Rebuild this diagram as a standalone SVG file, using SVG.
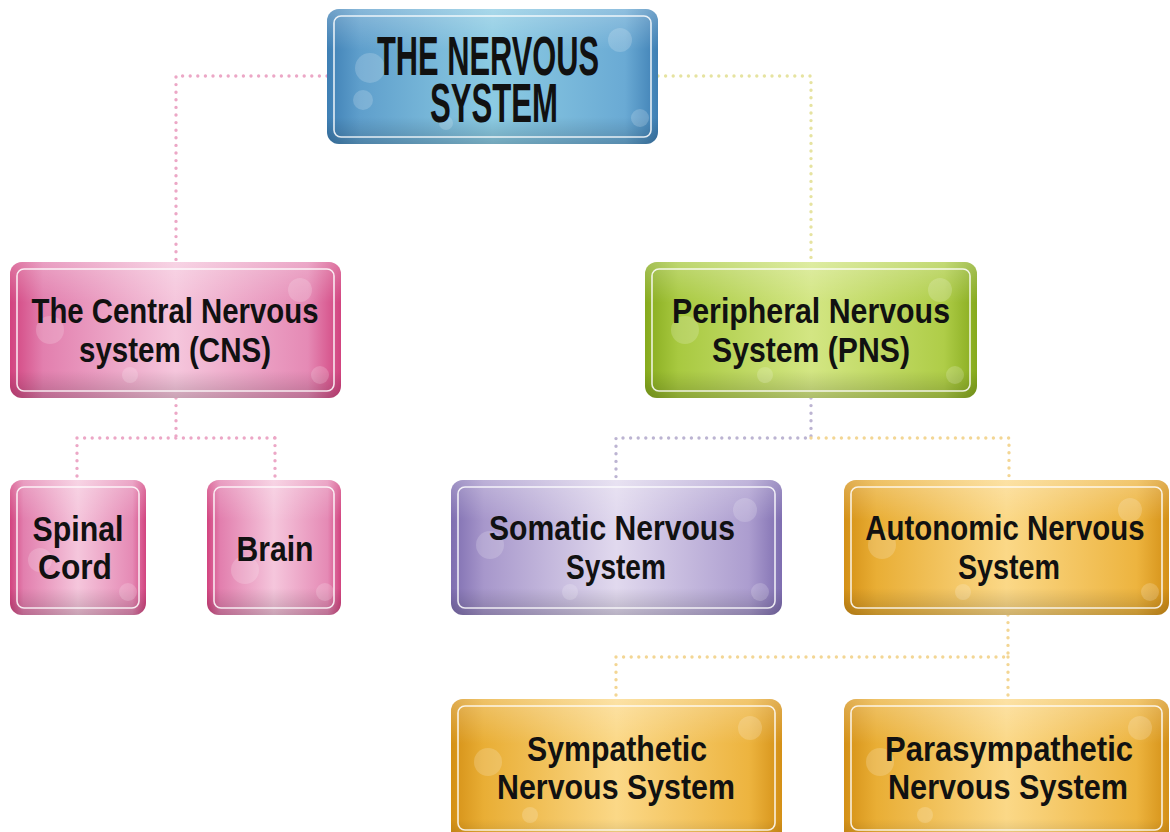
<svg xmlns="http://www.w3.org/2000/svg" width="1170" height="832" viewBox="0 0 1170 832">
<defs>
<linearGradient id="gBlue" x1="0" y1="0" x2="1" y2="0">
<stop offset="0" stop-color="#3e7fb4"/><stop offset="0.1" stop-color="#5f9fcc"/><stop offset="0.5" stop-color="#8ccbe3"/><stop offset="0.9" stop-color="#6aaad4"/><stop offset="1" stop-color="#3e7fb4"/>
</linearGradient>
<linearGradient id="gPink" x1="0" y1="0" x2="1" y2="0">
<stop offset="0" stop-color="#d2437f"/><stop offset="0.1" stop-color="#e27fae"/><stop offset="0.5" stop-color="#f5c6dc"/><stop offset="0.9" stop-color="#e58ab5"/><stop offset="1" stop-color="#d2437f"/>
</linearGradient>
<linearGradient id="gGreen" x1="0" y1="0" x2="1" y2="0">
<stop offset="0" stop-color="#86aa1d"/><stop offset="0.1" stop-color="#a8c940"/><stop offset="0.5" stop-color="#d3e683"/><stop offset="0.9" stop-color="#afcd48"/><stop offset="1" stop-color="#86aa1d"/>
</linearGradient>
<linearGradient id="gPurple" x1="0" y1="0" x2="1" y2="0">
<stop offset="0" stop-color="#7e6db0"/><stop offset="0.1" stop-color="#a797cb"/><stop offset="0.5" stop-color="#e1d9ee"/><stop offset="0.9" stop-color="#ac9dcf"/><stop offset="1" stop-color="#7e6db0"/>
</linearGradient>
<linearGradient id="gOrange" x1="0" y1="0" x2="1" y2="0">
<stop offset="0" stop-color="#d49016"/><stop offset="0.1" stop-color="#e9ae35"/><stop offset="0.5" stop-color="#fbd887"/><stop offset="0.9" stop-color="#edb43f"/><stop offset="1" stop-color="#d49016"/>
</linearGradient>
<linearGradient id="gShade" x1="0" y1="0" x2="0" y2="1">
<stop offset="0" stop-color="#fff" stop-opacity="0.25"/><stop offset="0.3" stop-color="#fff" stop-opacity="0"/><stop offset="0.8" stop-color="#000" stop-opacity="0"/><stop offset="1" stop-color="#000" stop-opacity="0.18"/>
</linearGradient>
<style>
.box{stroke:none}
.shade{fill:url(#gShade)}
.inner{fill:none;stroke:#fff;stroke-opacity:0.85;stroke-width:1.6}
.bokeh{fill:#fff;fill-opacity:0.18}
.t{font-family:"Liberation Sans",Arial,sans-serif;font-weight:bold;fill:#111;text-anchor:middle}
.title{font-size:55px}
.lbl{font-size:35px}
.dot{fill:none;stroke-width:3.4;stroke-linecap:round;stroke-dasharray:0 7.6}
.pk{stroke:#eca7c6}
.yg{stroke:#e6e3a0}
.pu{stroke:#bcb4d2}
.or{stroke:#f3d694}
</style>
</defs>
<rect width="1170" height="832" fill="#fff"/>

<g id="connectors">
<path class="dot pk" d="M327 76 H176 V263"/>
<path class="dot yg" d="M658 76 H811 V263"/>
<path class="dot pk" d="M176 398 V438 M77 438 H275 M77 438 V481 M275 438 V481"/>
<path class="dot pu" d="M811 398 V438 H616 V481"/>
<path class="dot or" d="M811 438 H1009 V481"/>
<path class="dot or" d="M1008 615 V657 M616 657 H1008 M616 657 V699 M1008 657 V699"/>
</g>

<g id="node-nervous-system">
<rect class="box" x="327" y="9" width="331" height="135" rx="12" fill="url(#gBlue)"/>
<rect class="shade" x="327" y="9" width="331" height="135" rx="12"/>
<circle class="bokeh" cx="370" cy="68" r="15"/><circle class="bokeh" cx="363" cy="100" r="10"/><circle class="bokeh" cx="446" cy="123" r="7"/><circle class="bokeh" cx="620" cy="40" r="12"/><circle class="bokeh" cx="640" cy="118" r="9"/>
<rect class="inner" x="334" y="16" width="317" height="121" rx="7"/>
<text class="t title" x="488" y="75" textLength="222" lengthAdjust="spacingAndGlyphs">THE NERVOUS</text>
<text class="t title" x="494" y="122" textLength="128" lengthAdjust="spacingAndGlyphs">SYSTEM</text>
</g>

<g id="node-cns">
<rect class="box" x="10" y="262" width="331" height="136" rx="12" fill="url(#gPink)"/>
<rect class="shade" x="10" y="262" width="331" height="136" rx="12"/>
<circle class="bokeh" cx="50" cy="330" r="14"/><circle class="bokeh" cx="130" cy="375" r="8"/><circle class="bokeh" cx="300" cy="290" r="12"/><circle class="bokeh" cx="320" cy="375" r="9"/>
<rect class="inner" x="17" y="269" width="317" height="122" rx="7"/>
<text class="t lbl" x="175" y="323" textLength="287" lengthAdjust="spacingAndGlyphs">The Central Nervous</text>
<text class="t lbl" x="175" y="362" textLength="192" lengthAdjust="spacingAndGlyphs">system (CNS)</text>
</g>

<g id="node-pns">
<rect class="box" x="645" y="262" width="332" height="136" rx="12" fill="url(#gGreen)"/>
<rect class="shade" x="645" y="262" width="332" height="136" rx="12"/>
<circle class="bokeh" cx="685" cy="330" r="14"/><circle class="bokeh" cx="765" cy="375" r="8"/><circle class="bokeh" cx="940" cy="290" r="12"/><circle class="bokeh" cx="955" cy="375" r="9"/>
<rect class="inner" x="652" y="269" width="318" height="122" rx="7"/>
<text class="t lbl" x="811" y="323" textLength="278" lengthAdjust="spacingAndGlyphs">Peripheral Nervous</text>
<text class="t lbl" x="811" y="362" textLength="198" lengthAdjust="spacingAndGlyphs">System (PNS)</text>
</g>

<g id="node-spinal-cord">
<rect class="box" x="10" y="480" width="136" height="135" rx="12" fill="url(#gPink)"/>
<rect class="shade" x="10" y="480" width="136" height="135" rx="12"/>
<circle class="bokeh" cx="40" cy="560" r="12"/><circle class="bokeh" cx="128" cy="592" r="9"/>
<rect class="inner" x="17" y="487" width="122" height="121" rx="7"/>
<text class="t lbl" x="78" y="541" textLength="91" lengthAdjust="spacingAndGlyphs">Spinal</text>
<text class="t lbl" x="75" y="579" textLength="74" lengthAdjust="spacingAndGlyphs">Cord</text>
</g>

<g id="node-brain">
<rect class="box" x="207" y="480" width="134" height="135" rx="12" fill="url(#gPink)"/>
<rect class="shade" x="207" y="480" width="134" height="135" rx="12"/>
<circle class="bokeh" cx="245" cy="570" r="14"/><circle class="bokeh" cx="325" cy="592" r="9"/>
<rect class="inner" x="214" y="487" width="120" height="121" rx="7"/>
<text class="t lbl" x="275" y="561" textLength="77" lengthAdjust="spacingAndGlyphs">Brain</text>
</g>

<g id="node-somatic">
<rect class="box" x="451" y="480" width="331" height="135" rx="12" fill="url(#gPurple)"/>
<rect class="shade" x="451" y="480" width="331" height="135" rx="12"/>
<circle class="bokeh" cx="490" cy="545" r="14"/><circle class="bokeh" cx="570" cy="592" r="8"/><circle class="bokeh" cx="745" cy="510" r="12"/><circle class="bokeh" cx="760" cy="592" r="9"/>
<rect class="inner" x="458" y="487" width="317" height="121" rx="7"/>
<text class="t lbl" x="612" y="540" textLength="246" lengthAdjust="spacingAndGlyphs">Somatic Nervous</text>
<text class="t lbl" x="616" y="579" textLength="100" lengthAdjust="spacingAndGlyphs">System</text>
</g>

<g id="node-autonomic">
<rect class="box" x="844" y="480" width="325" height="135" rx="12" fill="url(#gOrange)"/>
<rect class="shade" x="844" y="480" width="325" height="135" rx="12"/>
<circle class="bokeh" cx="882" cy="545" r="14"/><circle class="bokeh" cx="963" cy="592" r="8"/><circle class="bokeh" cx="1130" cy="510" r="12"/><circle class="bokeh" cx="1150" cy="592" r="9"/>
<rect class="inner" x="851" y="487" width="311" height="121" rx="7"/>
<text class="t lbl" transform="translate(1005 540) scale(0.84 1)" x="0" y="0">Autonomic Nervous</text>
<text class="t lbl" x="1009" y="579" textLength="102" lengthAdjust="spacingAndGlyphs">System</text>
</g>

<g id="node-sympathetic">
<rect class="box" x="451" y="699" width="331" height="150" rx="12" fill="url(#gOrange)"/>
<rect class="shade" x="451" y="699" width="331" height="150" rx="12"/>
<circle class="bokeh" cx="488" cy="762" r="14"/><circle class="bokeh" cx="530" cy="815" r="8"/><circle class="bokeh" cx="750" cy="728" r="12"/>
<rect class="inner" x="458" y="706" width="317" height="124" rx="7"/>
<text class="t lbl" x="617" y="761" textLength="180" lengthAdjust="spacingAndGlyphs">Sympathetic</text>
<text class="t lbl" x="616" y="799" textLength="238" lengthAdjust="spacingAndGlyphs">Nervous System</text>
</g>

<g id="node-parasympathetic">
<rect class="box" x="844" y="699" width="325" height="150" rx="12" fill="url(#gOrange)"/>
<rect class="shade" x="844" y="699" width="325" height="150" rx="12"/>
<circle class="bokeh" cx="880" cy="762" r="14"/><circle class="bokeh" cx="925" cy="815" r="8"/><circle class="bokeh" cx="1140" cy="728" r="12"/>
<rect class="inner" x="851" y="706" width="311" height="124" rx="7"/>
<text class="t lbl" x="1009" y="761" textLength="248" lengthAdjust="spacingAndGlyphs">Parasympathetic</text>
<text class="t lbl" x="1008" y="799" textLength="240" lengthAdjust="spacingAndGlyphs">Nervous System</text>
</g>
</svg>
